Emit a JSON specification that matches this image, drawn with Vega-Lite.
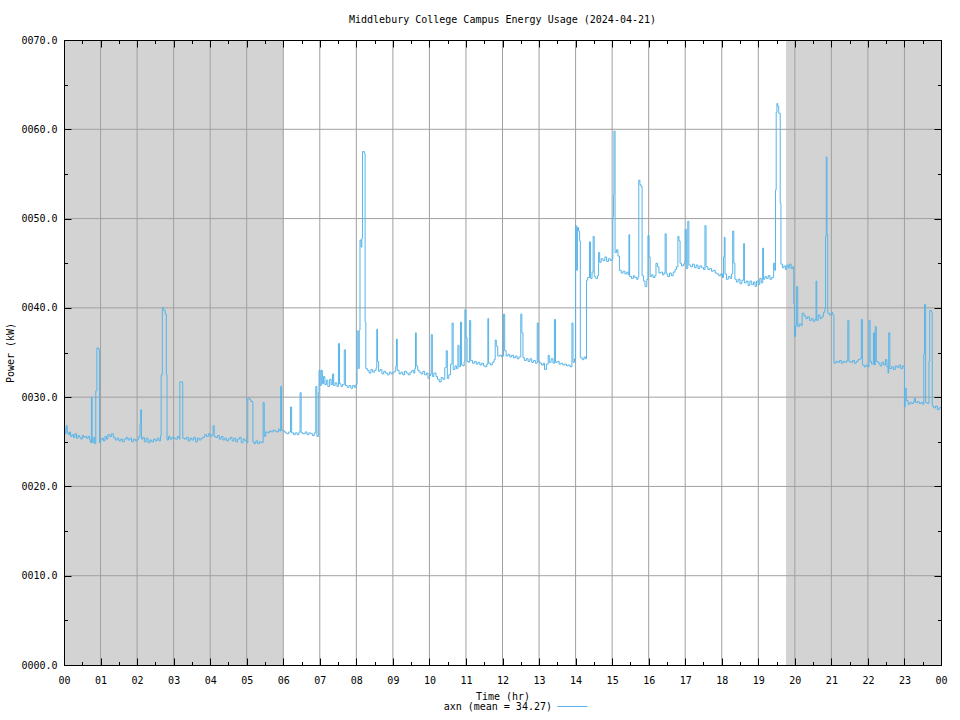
{
  "$schema": "https://vega.github.io/schema/vega-lite/v6.json",
  "width": 877,
  "height": 625,
  "autosize": {"type": "none"},
  "padding": {"left": 64, "top": 40, "right": 19, "bottom": 55},
  "background": "white",
  "title": {
    "text": "Middlebury College Campus Energy Usage (2024-04-21)",
    "font": "DejaVu Sans Mono",
    "fontSize": 10,
    "fontWeight": "normal",
    "color": "black",
    "anchor": "middle",
    "offset": 10
  },
  "config": {
    "view": {"stroke": "black", "strokeWidth": 1},
    "axis": {
      "labelFont": "DejaVu Sans Mono",
      "titleFont": "DejaVu Sans Mono",
      "labelFontSize": 10,
      "titleFontSize": 10,
      "titleFontWeight": "normal",
      "labelColor": "black",
      "titleColor": "black",
      "domainColor": "black",
      "tickColor": "black",
      "grid": false,
      "zindex": 1
    },
    "legend": {
      "labelFont": "DejaVu Sans Mono",
      "labelFontSize": 10,
      "labelColor": "black"
    }
  },
  "datasets": {
    "power": [
      {"h":0.00,"kw":26.6},{"h":0.03,"kw":25.9},{"h":0.06,"kw":26.8},{"h":0.09,"kw":26.0},{"h":0.12,"kw":25.8},{"h":0.15,"kw":26.1},{"h":0.18,"kw":25.6},{"h":0.22,"kw":25.8},{"h":0.26,"kw":25.5},{"h":0.30,"kw":25.9},{"h":0.34,"kw":25.4},{"h":0.38,"kw":25.7},{"h":0.42,"kw":25.5},{"h":0.46,"kw":25.3},{"h":0.50,"kw":25.7},{"h":0.54,"kw":25.5},{"h":0.58,"kw":25.6},{"h":0.62,"kw":25.4},{"h":0.66,"kw":25.6},{"h":0.70,"kw":25.2},{"h":0.73,"kw":24.9},{"h":0.75,"kw":30.0},{"h":0.77,"kw":24.9},{"h":0.80,"kw":25.5},{"h":0.84,"kw":24.8},{"h":0.87,"kw":30.7},{"h":0.90,"kw":35.5},{"h":0.95,"kw":35.3},{"h":0.97,"kw":24.9},
      {"h":1.00,"kw":25.2},{"h":1.04,"kw":25.4},{"h":1.08,"kw":25.1},{"h":1.12,"kw":25.6},{"h":1.16,"kw":25.3},{"h":1.20,"kw":25.8},{"h":1.25,"kw":25.6},{"h":1.30,"kw":25.9},{"h":1.35,"kw":25.5},{"h":1.40,"kw":25.2},{"h":1.45,"kw":25.4},{"h":1.50,"kw":25.1},{"h":1.55,"kw":25.3},{"h":1.60,"kw":25.0},{"h":1.65,"kw":25.3},{"h":1.70,"kw":25.5},{"h":1.75,"kw":25.2},{"h":1.80,"kw":25.4},{"h":1.85,"kw":25.0},{"h":1.90,"kw":25.3},{"h":1.95,"kw":25.1},
      {"h":2.00,"kw":25.3},{"h":2.05,"kw":25.6},{"h":2.08,"kw":27.0},{"h":2.10,"kw":28.6},{"h":2.12,"kw":25.3},{"h":2.16,"kw":25.5},{"h":2.20,"kw":25.0},{"h":2.25,"kw":25.4},{"h":2.30,"kw":24.9},{"h":2.35,"kw":25.2},{"h":2.40,"kw":25.0},{"h":2.45,"kw":25.3},{"h":2.50,"kw":25.1},{"h":2.55,"kw":25.4},{"h":2.60,"kw":25.1},{"h":2.64,"kw":25.7},{"h":2.66,"kw":32.5},{"h":2.69,"kw":40.0},{"h":2.73,"kw":39.7},{"h":2.77,"kw":39.3},{"h":2.80,"kw":32.5},{"h":2.82,"kw":25.2},{"h":2.86,"kw":25.6},{"h":2.90,"kw":25.3},{"h":2.95,"kw":25.5},
      {"h":3.00,"kw":25.4},{"h":3.05,"kw":25.3},{"h":3.10,"kw":25.6},{"h":3.15,"kw":25.3},{"h":3.17,"kw":31.7},{"h":3.25,"kw":25.4},{"h":3.30,"kw":25.3},{"h":3.35,"kw":25.5},{"h":3.40,"kw":25.1},{"h":3.45,"kw":25.4},{"h":3.50,"kw":25.2},{"h":3.55,"kw":25.5},{"h":3.60,"kw":25.0},{"h":3.65,"kw":25.4},{"h":3.70,"kw":25.2},{"h":3.75,"kw":25.4},{"h":3.80,"kw":25.5},{"h":3.85,"kw":25.8},{"h":3.90,"kw":25.6},{"h":3.95,"kw":25.9},
      {"h":4.00,"kw":25.6},{"h":4.05,"kw":25.8},{"h":4.08,"kw":26.8},{"h":4.11,"kw":25.6},{"h":4.15,"kw":25.5},{"h":4.20,"kw":25.7},{"h":4.25,"kw":25.3},{"h":4.30,"kw":25.6},{"h":4.35,"kw":25.2},{"h":4.40,"kw":25.4},{"h":4.45,"kw":25.1},{"h":4.50,"kw":25.3},{"h":4.55,"kw":25.5},{"h":4.60,"kw":25.1},{"h":4.65,"kw":25.4},{"h":4.70,"kw":25.0},{"h":4.75,"kw":25.3},{"h":4.80,"kw":25.5},{"h":4.85,"kw":24.9},{"h":4.90,"kw":25.3},{"h":4.95,"kw":25.1},
      {"h":5.00,"kw":24.9},{"h":5.03,"kw":29.9},{"h":5.08,"kw":29.7},{"h":5.12,"kw":29.5},{"h":5.17,"kw":25.0},{"h":5.20,"kw":24.8},{"h":5.25,"kw":25.1},{"h":5.30,"kw":24.8},{"h":5.35,"kw":25.0},{"h":5.40,"kw":24.9},{"h":5.45,"kw":29.4},{"h":5.48,"kw":25.6},{"h":5.52,"kw":26.1},{"h":5.57,"kw":26.0},{"h":5.62,"kw":26.2},{"h":5.67,"kw":26.1},{"h":5.72,"kw":26.3},{"h":5.77,"kw":26.2},{"h":5.82,"kw":26.1},{"h":5.87,"kw":26.4},{"h":5.91,"kw":26.2},{"h":5.93,"kw":31.2},{"h":5.95,"kw":26.3},
      {"h":6.00,"kw":26.2},{"h":6.05,"kw":26.0},{"h":6.10,"kw":25.9},{"h":6.15,"kw":26.1},{"h":6.20,"kw":28.9},{"h":6.23,"kw":26.0},{"h":6.28,"kw":25.8},{"h":6.33,"kw":26.0},{"h":6.38,"kw":25.8},{"h":6.43,"kw":26.1},{"h":6.46,"kw":30.5},{"h":6.49,"kw":26.0},{"h":6.54,"kw":25.9},{"h":6.60,"kw":26.1},{"h":6.65,"kw":25.8},{"h":6.70,"kw":26.0},{"h":6.75,"kw":25.9},{"h":6.80,"kw":25.7},{"h":6.85,"kw":26.0},{"h":6.89,"kw":31.2},{"h":6.92,"kw":25.6},{"h":6.96,"kw":30.5},{"h":6.98,"kw":33.0},
      {"h":7.01,"kw":31.3},{"h":7.04,"kw":33.0},{"h":7.07,"kw":31.5},{"h":7.10,"kw":32.3},{"h":7.14,"kw":31.4},{"h":7.18,"kw":31.9},{"h":7.22,"kw":31.2},{"h":7.27,"kw":32.0},{"h":7.31,"kw":31.4},{"h":7.35,"kw":32.6},{"h":7.38,"kw":31.3},{"h":7.42,"kw":31.6},{"h":7.47,"kw":31.2},{"h":7.51,"kw":36.0},{"h":7.54,"kw":31.5},{"h":7.58,"kw":31.2},{"h":7.62,"kw":31.4},{"h":7.67,"kw":35.3},{"h":7.70,"kw":31.3},{"h":7.75,"kw":31.1},{"h":7.80,"kw":31.3},{"h":7.85,"kw":31.0},{"h":7.90,"kw":31.3},{"h":7.95,"kw":31.1},{"h":7.99,"kw":31.4},
      {"h":8.02,"kw":37.4},{"h":8.05,"kw":33.2},{"h":8.08,"kw":37.5},{"h":8.10,"kw":47.6},{"h":8.13,"kw":46.8},{"h":8.15,"kw":47.8},{"h":8.17,"kw":57.5},{"h":8.22,"kw":57.3},{"h":8.24,"kw":38.4},{"h":8.26,"kw":33.2},{"h":8.30,"kw":33.0},{"h":8.35,"kw":32.7},{"h":8.40,"kw":33.1},{"h":8.45,"kw":32.8},{"h":8.50,"kw":33.0},{"h":8.54,"kw":33.3},{"h":8.56,"kw":37.6},{"h":8.58,"kw":34.0},{"h":8.61,"kw":32.9},{"h":8.65,"kw":33.1},{"h":8.70,"kw":32.6},{"h":8.75,"kw":32.9},{"h":8.80,"kw":32.7},{"h":8.85,"kw":32.5},{"h":8.90,"kw":32.8},{"h":8.95,"kw":32.6},
      {"h":9.00,"kw":32.8},{"h":9.05,"kw":32.9},{"h":9.08,"kw":33.5},{"h":9.10,"kw":36.5},{"h":9.12,"kw":33.0},{"h":9.17,"kw":32.6},{"h":9.22,"kw":32.8},{"h":9.27,"kw":32.5},{"h":9.32,"kw":32.9},{"h":9.37,"kw":32.7},{"h":9.42,"kw":32.5},{"h":9.47,"kw":32.8},{"h":9.52,"kw":33.0},{"h":9.57,"kw":32.7},{"h":9.60,"kw":33.2},{"h":9.62,"kw":37.2},{"h":9.64,"kw":33.5},{"h":9.68,"kw":33.0},{"h":9.72,"kw":32.8},{"h":9.77,"kw":32.6},{"h":9.82,"kw":32.9},{"h":9.87,"kw":32.5},{"h":9.92,"kw":32.7},{"h":9.96,"kw":32.1},
      {"h":10.00,"kw":32.4},{"h":10.03,"kw":32.6},{"h":10.05,"kw":37.0},{"h":10.08,"kw":32.3},{"h":10.12,"kw":32.7},{"h":10.18,"kw":32.3},{"h":10.22,"kw":32.0},{"h":10.27,"kw":31.7},{"h":10.32,"kw":32.2},{"h":10.37,"kw":32.0},{"h":10.42,"kw":33.3},{"h":10.46,"kw":35.2},{"h":10.49,"kw":32.1},{"h":10.53,"kw":32.5},{"h":10.58,"kw":33.7},{"h":10.62,"kw":38.3},{"h":10.65,"kw":33.1},{"h":10.70,"kw":33.5},{"h":10.74,"kw":33.2},{"h":10.78,"kw":35.8},{"h":10.81,"kw":33.4},{"h":10.85,"kw":38.4},{"h":10.88,"kw":33.6},{"h":10.92,"kw":33.5},{"h":10.95,"kw":34.0},{"h":10.97,"kw":39.8},
      {"h":11.00,"kw":36.7},{"h":11.03,"kw":34.0},{"h":11.07,"kw":33.9},{"h":11.10,"kw":38.6},{"h":11.13,"kw":34.1},{"h":11.18,"kw":33.8},{"h":11.23,"kw":34.0},{"h":11.28,"kw":33.7},{"h":11.33,"kw":33.9},{"h":11.38,"kw":33.6},{"h":11.43,"kw":33.8},{"h":11.48,"kw":33.5},{"h":11.53,"kw":33.4},{"h":11.57,"kw":33.7},{"h":11.60,"kw":38.8},{"h":11.62,"kw":33.8},{"h":11.67,"kw":33.6},{"h":11.72,"kw":33.9},{"h":11.77,"kw":34.2},{"h":11.80,"kw":36.4},{"h":11.83,"kw":35.7},{"h":11.87,"kw":34.6},{"h":11.92,"kw":34.7},{"h":11.97,"kw":34.5},
      {"h":12.00,"kw":34.6},{"h":12.03,"kw":39.3},{"h":12.06,"kw":35.2},{"h":12.10,"kw":34.6},{"h":12.15,"kw":34.8},{"h":12.20,"kw":34.5},{"h":12.25,"kw":34.7},{"h":12.30,"kw":34.4},{"h":12.35,"kw":34.6},{"h":12.40,"kw":34.3},{"h":12.45,"kw":34.5},{"h":12.50,"kw":39.3},{"h":12.53,"kw":37.2},{"h":12.56,"kw":34.4},{"h":12.60,"kw":34.1},{"h":12.65,"kw":34.3},{"h":12.70,"kw":34.0},{"h":12.75,"kw":34.3},{"h":12.80,"kw":33.9},{"h":12.85,"kw":34.1},{"h":12.90,"kw":33.8},{"h":12.95,"kw":38.3},{"h":12.98,"kw":34.0},
      {"h":13.02,"kw":33.8},{"h":13.07,"kw":33.6},{"h":13.12,"kw":33.8},{"h":13.15,"kw":33.1},{"h":13.20,"kw":33.7},{"h":13.25,"kw":34.7},{"h":13.28,"kw":33.9},{"h":13.33,"kw":34.3},{"h":13.38,"kw":33.8},{"h":13.42,"kw":38.7},{"h":13.45,"kw":33.9},{"h":13.50,"kw":34.0},{"h":13.55,"kw":33.7},{"h":13.60,"kw":33.8},{"h":13.65,"kw":33.6},{"h":13.70,"kw":33.7},{"h":13.75,"kw":33.5},{"h":13.80,"kw":33.6},{"h":13.85,"kw":33.4},{"h":13.90,"kw":38.3},{"h":13.93,"kw":33.9},{"h":13.97,"kw":34.3},
      {"h":14.00,"kw":49.2},{"h":14.03,"kw":44.2},{"h":14.05,"kw":49.0},{"h":14.08,"kw":48.6},{"h":14.11,"kw":47.5},{"h":14.13,"kw":34.4},{"h":14.18,"kw":34.2},{"h":14.23,"kw":34.5},{"h":14.27,"kw":34.3},{"h":14.30,"kw":43.1},{"h":14.33,"kw":43.4},{"h":14.38,"kw":47.4},{"h":14.41,"kw":43.3},{"h":14.45,"kw":44.0},{"h":14.48,"kw":48.0},{"h":14.51,"kw":43.5},{"h":14.55,"kw":43.3},{"h":14.60,"kw":43.6},{"h":14.63,"kw":46.2},{"h":14.66,"kw":45.1},{"h":14.70,"kw":45.5},{"h":14.75,"kw":45.3},{"h":14.80,"kw":45.7},{"h":14.85,"kw":45.2},{"h":14.90,"kw":45.5},{"h":14.95,"kw":45.3},
      {"h":15.00,"kw":45.5},{"h":15.02,"kw":50.2},{"h":15.04,"kw":52.7},{"h":15.05,"kw":59.8},{"h":15.08,"kw":46.2},{"h":15.12,"kw":46.5},{"h":15.16,"kw":45.8},{"h":15.20,"kw":44.2},{"h":15.25,"kw":43.9},{"h":15.30,"kw":44.1},{"h":15.35,"kw":43.8},{"h":15.40,"kw":44.0},{"h":15.44,"kw":43.7},{"h":15.46,"kw":48.2},{"h":15.48,"kw":43.5},{"h":15.53,"kw":43.3},{"h":15.58,"kw":43.6},{"h":15.62,"kw":43.4},{"h":15.67,"kw":43.2},{"h":15.71,"kw":43.5},{"h":15.73,"kw":54.3},{"h":15.76,"kw":53.8},{"h":15.79,"kw":53.6},{"h":15.82,"kw":43.6},{"h":15.86,"kw":43.0},{"h":15.90,"kw":42.4},{"h":15.95,"kw":43.2},{"h":15.98,"kw":48.1},
      {"h":16.01,"kw":45.7},{"h":16.04,"kw":43.5},{"h":16.08,"kw":43.7},{"h":16.12,"kw":43.4},{"h":16.17,"kw":43.6},{"h":16.20,"kw":45.0},{"h":16.24,"kw":44.6},{"h":16.28,"kw":43.9},{"h":16.33,"kw":44.0},{"h":16.38,"kw":43.7},{"h":16.42,"kw":43.9},{"h":16.45,"kw":48.3},{"h":16.48,"kw":43.8},{"h":16.52,"kw":43.5},{"h":16.57,"kw":43.9},{"h":16.62,"kw":43.6},{"h":16.67,"kw":44.0},{"h":16.72,"kw":44.3},{"h":16.76,"kw":44.6},{"h":16.80,"kw":48.0},{"h":16.83,"kw":47.5},{"h":16.86,"kw":45.0},{"h":16.90,"kw":44.7},{"h":16.95,"kw":44.9},{"h":16.99,"kw":45.3},
      {"h":17.00,"kw":48.8},{"h":17.03,"kw":44.4},{"h":17.07,"kw":49.7},{"h":17.10,"kw":44.8},{"h":17.15,"kw":44.6},{"h":17.20,"kw":44.9},{"h":17.25,"kw":44.5},{"h":17.30,"kw":44.8},{"h":17.35,"kw":44.4},{"h":17.40,"kw":44.7},{"h":17.45,"kw":44.5},{"h":17.50,"kw":44.3},{"h":17.54,"kw":49.2},{"h":17.57,"kw":44.6},{"h":17.62,"kw":44.3},{"h":17.67,"kw":44.4},{"h":17.72,"kw":44.1},{"h":17.77,"kw":44.2},{"h":17.82,"kw":43.9},{"h":17.87,"kw":43.8},{"h":17.92,"kw":43.6},{"h":17.97,"kw":43.8},
      {"h":18.02,"kw":43.4},{"h":18.05,"kw":45.7},{"h":18.07,"kw":47.9},{"h":18.09,"kw":43.8},{"h":18.13,"kw":43.2},{"h":18.18,"kw":43.5},{"h":18.23,"kw":43.3},{"h":18.27,"kw":43.8},{"h":18.30,"kw":48.6},{"h":18.33,"kw":45.0},{"h":18.36,"kw":43.2},{"h":18.40,"kw":42.9},{"h":18.45,"kw":43.2},{"h":18.50,"kw":42.7},{"h":18.55,"kw":43.1},{"h":18.60,"kw":47.2},{"h":18.62,"kw":42.8},{"h":18.67,"kw":43.0},{"h":18.72,"kw":42.5},{"h":18.77,"kw":43.0},{"h":18.82,"kw":42.6},{"h":18.87,"kw":42.9},{"h":18.91,"kw":42.4},{"h":18.95,"kw":43.0},
      {"h":19.00,"kw":42.6},{"h":19.04,"kw":43.3},{"h":19.08,"kw":42.8},{"h":19.12,"kw":46.7},{"h":19.14,"kw":43.2},{"h":19.18,"kw":43.5},{"h":19.22,"kw":43.3},{"h":19.27,"kw":43.6},{"h":19.32,"kw":43.2},{"h":19.37,"kw":43.4},{"h":19.42,"kw":45.0},{"h":19.45,"kw":44.2},{"h":19.47,"kw":53.2},{"h":19.49,"kw":61.9},{"h":19.51,"kw":62.9},{"h":19.53,"kw":62.6},{"h":19.56,"kw":61.8},{"h":19.60,"kw":51.7},{"h":19.62,"kw":44.9},{"h":19.66,"kw":44.5},{"h":19.70,"kw":44.7},{"h":19.74,"kw":44.3},{"h":19.78,"kw":44.8},{"h":19.82,"kw":44.5},{"h":19.86,"kw":44.9},{"h":19.90,"kw":44.4},{"h":19.94,"kw":44.6},{"h":19.97,"kw":40.5},{"h":19.99,"kw":36.8},
      {"h":20.02,"kw":38.0},{"h":20.05,"kw":42.4},{"h":20.08,"kw":37.9},{"h":20.12,"kw":38.2},{"h":20.17,"kw":38.0},{"h":20.20,"kw":39.4},{"h":20.25,"kw":39.1},{"h":20.30,"kw":38.8},{"h":20.35,"kw":39.0},{"h":20.40,"kw":38.6},{"h":20.45,"kw":38.8},{"h":20.50,"kw":38.5},{"h":20.55,"kw":38.7},{"h":20.58,"kw":43.0},{"h":20.60,"kw":38.6},{"h":20.64,"kw":39.2},{"h":20.69,"kw":38.8},{"h":20.74,"kw":39.0},{"h":20.78,"kw":39.5},{"h":20.82,"kw":39.9},{"h":20.84,"kw":48.0},{"h":20.86,"kw":56.9},{"h":20.88,"kw":48.2},{"h":20.90,"kw":39.4},{"h":20.95,"kw":39.2},
      {"h":21.00,"kw":39.5},{"h":21.04,"kw":39.2},{"h":21.07,"kw":33.8},{"h":21.12,"kw":34.0},{"h":21.17,"kw":33.9},{"h":21.22,"kw":34.1},{"h":21.27,"kw":33.8},{"h":21.32,"kw":34.0},{"h":21.37,"kw":33.9},{"h":21.42,"kw":34.1},{"h":21.45,"kw":38.6},{"h":21.48,"kw":34.0},{"h":21.53,"kw":33.9},{"h":21.58,"kw":34.1},{"h":21.63,"kw":33.8},{"h":21.68,"kw":34.0},{"h":21.73,"kw":34.2},{"h":21.78,"kw":34.3},{"h":21.82,"kw":38.7},{"h":21.85,"kw":33.6},{"h":21.90,"kw":33.4},{"h":21.95,"kw":33.6},
      {"h":22.00,"kw":33.4},{"h":22.03,"kw":38.6},{"h":22.06,"kw":34.0},{"h":22.10,"kw":33.7},{"h":22.15,"kw":37.2},{"h":22.18,"kw":33.6},{"h":22.20,"kw":37.9},{"h":22.23,"kw":34.0},{"h":22.28,"kw":33.8},{"h":22.33,"kw":33.5},{"h":22.38,"kw":33.9},{"h":22.43,"kw":33.6},{"h":22.48,"kw":34.2},{"h":22.52,"kw":33.4},{"h":22.55,"kw":32.7},{"h":22.57,"kw":37.2},{"h":22.60,"kw":33.2},{"h":22.65,"kw":33.4},{"h":22.70,"kw":33.1},{"h":22.75,"kw":33.5},{"h":22.80,"kw":33.3},{"h":22.85,"kw":33.6},{"h":22.90,"kw":33.2},{"h":22.95,"kw":33.5},{"h":22.98,"kw":33.4},
      {"h":23.00,"kw":28.9},{"h":23.02,"kw":31.0},{"h":23.05,"kw":29.6},{"h":23.10,"kw":29.2},{"h":23.15,"kw":29.4},{"h":23.20,"kw":29.3},{"h":23.25,"kw":29.5},{"h":23.27,"kw":29.9},{"h":23.30,"kw":29.4},{"h":23.35,"kw":29.5},{"h":23.40,"kw":29.3},{"h":23.45,"kw":29.4},{"h":23.50,"kw":29.2},{"h":23.53,"kw":34.8},{"h":23.55,"kw":40.4},{"h":23.58,"kw":29.4},{"h":23.62,"kw":29.3},{"h":23.67,"kw":34.0},{"h":23.69,"kw":39.7},{"h":23.74,"kw":39.5},{"h":23.76,"kw":29.0},{"h":23.80,"kw":28.8},{"h":23.85,"kw":29.0},{"h":23.90,"kw":28.6},{"h":23.95,"kw":28.8},{"h":24.00,"kw":28.9}
    ]
  },
  "layer": [
    {
      "data": {"values": [{"start": 0, "end": 6}, {"start": 19.76, "end": 24}]},
      "mark": {"type": "rect", "color": "#d3d3d3"},
      "encoding": {
        "x": {"field": "start", "type": "quantitative", "scale": {"domain": [0, 24], "nice": false, "zero": false}, "axis": null},
        "x2": {"field": "end"}
      }
    },
    {
      "data": {"values": [{"h":1},{"h":2},{"h":3},{"h":4},{"h":5},{"h":6},{"h":7},{"h":8},{"h":9},{"h":10},{"h":11},{"h":12},{"h":13},{"h":14},{"h":15},{"h":16},{"h":17},{"h":18},{"h":19},{"h":20},{"h":21},{"h":22},{"h":23}]},
      "mark": {"type": "rule", "color": "#a0a0a0", "strokeWidth": 1},
      "encoding": {
        "x": {
          "field": "h", "type": "quantitative",
          "scale": {"domain": [0, 24], "nice": false, "zero": false},
          "axis": {
            "orient": "top", "title": null, "labels": false, "zindex": 1,
            "values": [0,0.5,1,1.5,2,2.5,3,3.5,4,4.5,5,5.5,6,6.5,7,7.5,8,8.5,9,9.5,10,10.5,11,11.5,12,12.5,13,13.5,14,14.5,15,15.5,16,16.5,17,17.5,18,18.5,19,19.5,20,20.5,21,21.5,22,22.5,23,23.5,24],
            "tickSize": {"condition": {"test": "datum.value % 1 == 0", "value": -7}, "value": -3.5}
          }
        }
      }
    },
    {
      "data": {"values": [{"v":10},{"v":20},{"v":30},{"v":40},{"v":50},{"v":60}]},
      "mark": {"type": "rule", "color": "#a0a0a0", "strokeWidth": 1},
      "encoding": {
        "y": {
          "field": "v", "type": "quantitative",
          "scale": {"domain": [0, 70], "nice": false},
          "axis": {
            "orient": "right", "title": null, "labels": false, "zindex": 1,
            "values": [0,5,10,15,20,25,30,35,40,45,50,55,60,65,70],
            "tickSize": {"condition": {"test": "datum.value % 10 == 0", "value": -7}, "value": -3.5}
          }
        }
      }
    },
    {
      "data": {"name": "power"},
      "mark": {"type": "line", "interpolate": "step-after", "strokeWidth": 1},
      "encoding": {
        "x": {
          "field": "h", "type": "quantitative",
          "scale": {"domain": [0, 24], "nice": false, "zero": false},
          "axis": {
            "orient": "bottom", "title": "Time (hr)", "zindex": 1,
            "values": [0,0.5,1,1.5,2,2.5,3,3.5,4,4.5,5,5.5,6,6.5,7,7.5,8,8.5,9,9.5,10,10.5,11,11.5,12,12.5,13,13.5,14,14.5,15,15.5,16,16.5,17,17.5,18,18.5,19,19.5,20,20.5,21,21.5,22,22.5,23,23.5,24],
            "labelExpr": "datum.value % 1 != 0 ? '' : (datum.value == 24 ? '00' : (datum.value < 10 ? '0' + datum.value : '' + datum.value))",
            "tickSize": {"condition": {"test": "datum.value % 1 == 0", "value": -7}, "value": -3.5},
            "labelPadding": 17,
            "labelFlush": false,
            "labelOverlap": false,
            "titlePadding": 3
          }
        },
        "y": {
          "field": "kw", "type": "quantitative",
          "scale": {"domain": [0, 70], "nice": false},
          "axis": {
            "orient": "left", "title": "Power (kW)", "zindex": 1,
            "values": [0,5,10,15,20,25,30,35,40,45,50,55,60,65,70],
            "labelExpr": "datum.value % 10 != 0 ? '' : format(datum.value, '06.1f')",
            "tickSize": {"condition": {"test": "datum.value % 10 == 0", "value": -7}, "value": -3.5},
            "labelPadding": 14,
            "titlePadding": 5
          }
        },
        "color": {
          "datum": "axn (mean = 34.27)",
          "type": "nominal",
          "scale": {"range": ["#56b4e9"]},
          "legend": {
            "orient": "none",
            "legendX": 493,
            "legendY": 651,
            "padding": 0,
            "title": null,
            "symbolType": "stroke",
            "symbolSize": 900,
            "symbolStrokeWidth": 1,
            "labelAlign": "right",
            "labelOffset": -36
          }
        }
      }
    }
  ],
  "resolve": {"axis": {"x": "independent", "y": "independent"}}
}
